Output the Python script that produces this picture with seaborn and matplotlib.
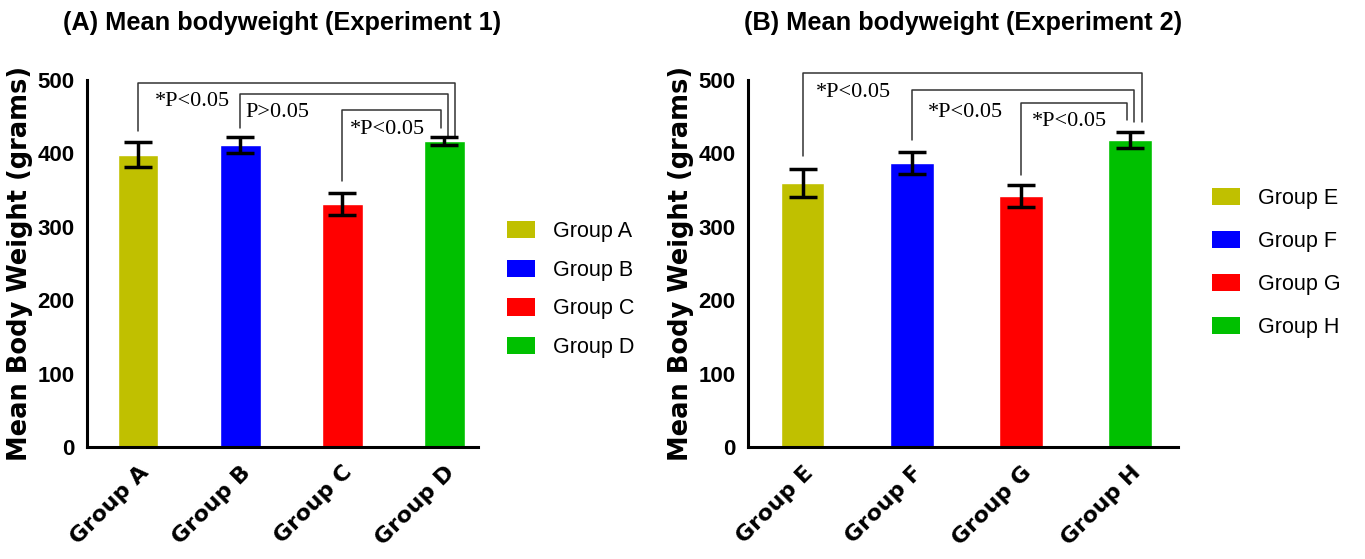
import matplotlib
matplotlib.use("Agg")
import matplotlib.pyplot as plt
import seaborn as sns
import pandas as pd
from matplotlib.patches import Patch

# data
groups_1 = ["Group A", "Group B", "Group C", "Group D"]
means_1 = [398, 411, 331, 417]
errs_1 = [17, 11, 15, 5]

groups_2 = ["Group E", "Group F", "Group G", "Group H"]
means_2 = [360, 387, 342, 418]
errs_2 = [19, 15, 15, 11]

colors = ["#C0C000", "#0000FF", "#FF0000", "#00C000"]

# comparisons: (left bar, right bar, label)
comps_1 = [(0, 3, "*P<0.05"), (1, 3, "P>0.05"), (2, 3, "*P<0.05")]
comps_2 = [(0, 3, "*P<0.05"), (1, 3, "*P<0.05"), (2, 3, "*P<0.05")]

sns.set_style("white")
plt.rcParams["font.family"] = ["DejaVu Sans"]
plt.rcParams["text.color"] = "black"
plt.rcParams["axes.labelcolor"] = "black"
plt.rcParams["xtick.color"] = "black"
plt.rcParams["ytick.color"] = "black"

fig = plt.figure(figsize=(13.65, 5.59), dpi=100)
ax1 = fig.add_axes([87 / 1365, 1 - 447 / 559, 391 / 1365, 367 / 559])
ax2 = fig.add_axes([748 / 1365, 1 - 447 / 559, 430 / 1365, 367 / 559])


def draw_panel(ax, groups, means, errs, comps, title, tops, legs_l, legs_r, r_off,
               lab_pos, xmax, leg_anchor, leg_space):
    df = pd.DataFrame({"group": groups, "mean": means})
    sns.barplot(data=df, x="group", y="mean", hue="group", palette=colors,
                width=0.4, dodge=False, legend=False, ax=ax, saturation=1)
    ax.errorbar(range(len(groups)), means, yerr=errs, fmt="none", ecolor="black",
                elinewidth=2.5, capsize=10, capthick=2.5, zorder=5)

    # significance brackets
    for k, (i, j, lab) in enumerate(comps):
        xr = j + r_off[k]
        ax.plot([i, i, xr, xr], [legs_l[k], tops[k], tops[k], legs_r[k]],
                color="#333333", lw=1.1, clip_on=False)
        ax.text(lab_pos[k][0], lab_pos[k][1], lab, ha="left", va="center",
                fontsize=16, family=["Liberation Serif"])

    ax.set_ylim(0, 500)
    ax.set_xlim(-0.5, xmax)
    ax.set_yticks([0, 100, 200, 300, 400, 500])
    ax.set_yticklabels([str(v) for v in [0, 100, 200, 300, 400, 500]],
                       fontsize=16, fontweight="bold", family=["Liberation Sans"])
    ax.set_xticks(range(len(groups)))
    ax.set_xticklabels(groups, rotation=45, ha="right", rotation_mode="anchor",
                       fontsize=16, fontweight="bold")
    ax.set_xlabel("")
    ax.set_ylabel("Mean Body Weight (grams)", fontsize=18.5, fontweight="bold", labelpad=3)
    ax.set_title(title, fontsize=18.3, fontweight="bold", family=["Liberation Sans"], pad=36)

    for s in ["top", "right"]:
        ax.spines[s].set_visible(False)
    for s in ["left", "bottom"]:
        ax.spines[s].set_linewidth(2.2)
        ax.spines[s].set_color("black")
    ax.tick_params(axis="both", direction="out", length=7, width=2, color="black")
    ax.tick_params(axis="y", pad=2)
    ax.tick_params(axis="x", pad=4)

    handles = [Patch(facecolor=c, edgecolor="none", label=g) for c, g in zip(colors, groups)]
    fig.legend(handles=handles, loc="upper left", bbox_to_anchor=leg_anchor,
               frameon=False, borderpad=0, borderaxespad=0, handlelength=1.3,
               handleheight=0.85, handletextpad=0.85, labelspacing=leg_space,
               prop={"family": "Liberation Sans", "size": 15.5})


draw_panel(ax1, groups_1, means_1, errs_1, comps_1,
           "(A) Mean bodyweight (Experiment 1)",
           tops=[496, 481, 459], legs_l=[430, 435, 362], legs_r=[424, 424, 435],
           r_off=[0.1, 0.04, -0.03],
           lab_pos=[(0.17, 471), (1.05, 456), (2.08, 433)],
           xmax=3.33, leg_anchor=(507 / 1365, 1 - 221 / 559), leg_space=0.82)

draw_panel(ax2, groups_2, means_2, errs_2, comps_2,
           "(B) Mean bodyweight (Experiment 2)",
           tops=[509, 486, 469], legs_l=[396, 418, 370], legs_r=[443, 443, 445],
           r_off=[0.11, 0.04, -0.03],
           lab_pos=[(0.12, 483), (1.15, 456), (2.1, 444)],
           xmax=3.44, leg_anchor=(1212 / 1365, 1 - 188 / 559), leg_space=1.02)

fig.savefig("out.png", dpi=100)
